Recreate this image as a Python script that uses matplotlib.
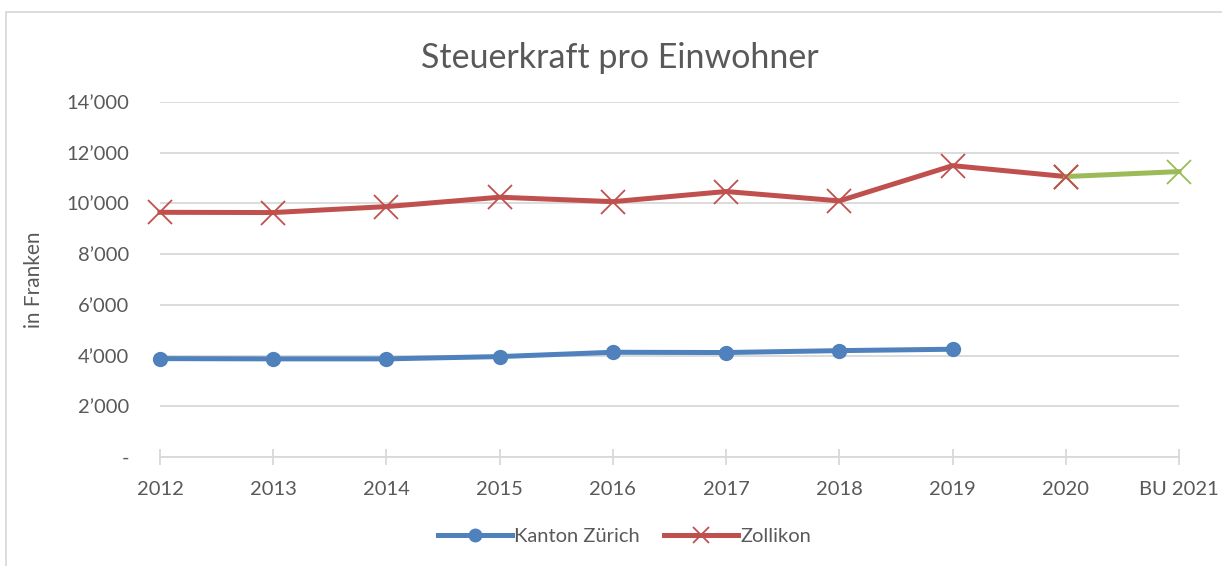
import matplotlib.pyplot as plt
from matplotlib.lines import Line2D
from matplotlib.patches import Rectangle
from matplotlib.ticker import FuncFormatter

# data
years = ["2012", "2013", "2014", "2015", "2016", "2017", "2018", "2019", "2020", "BU 2021"]
kanton_zuerich = [3880, 3870, 3870, 3960, 4130, 4120, 4195, 4250]
zollikon = [9650, 9640, 9875, 10245, 10070, 10470, 10100, 11490, 11060]
zollikon_budget = [11060, 11255]   # 2020 -> BU 2021

blue = "#4F81BD"
red = "#C0504D"
green = "#9BBB59"
grey_text = "#595959"

plt.rcParams["font.family"] = ["Lato", "DejaVu Sans"]

fig = plt.figure(figsize=(12.22, 5.66), dpi=100)
ax = fig.add_axes([160 / 1222, 109 / 566, 1019 / 1222, 355 / 566])

x = list(range(len(years)))

ax.plot(x[:len(kanton_zuerich)], kanton_zuerich, color=blue, lw=3.6,
        marker="o", markersize=10, clip_on=False)
ax.plot(x[:len(zollikon)], zollikon, color=red, lw=3.6,
        marker="x", markersize=17, markeredgewidth=1.3, clip_on=False)
ax.plot(x[8:10], zollikon_budget, color=green, lw=3.6,
        marker="x", markersize=17, markeredgewidth=1.3, clip_on=False)
# redraw the 2020 red marker on top of the green line
ax.plot(x[8], zollikon[8], color=red, marker="x", markersize=17, markeredgewidth=1.3)

ax.set_xlim(0, len(years) - 1)
ax.set_ylim(0, 14000)
ax.set_yticks(range(0, 14001, 2000))
ax.set_xticks(x)
ax.set_xticklabels(years)

def fmt(v, pos):
    if v == 0:
        return "-"
    return "{:,.0f}".format(v).replace(",", "\u2019")

ax.yaxis.set_major_formatter(FuncFormatter(fmt))

ax.grid(axis="y", color="#D9D9D9", lw=1.3)
ax.set_axisbelow(True)
for s in ["top", "right", "left"]:
    ax.spines[s].set_visible(False)
ax.spines["bottom"].set_color("#D9D9D9")
ax.spines["bottom"].set_linewidth(1.3)

ax.tick_params(axis="x", direction="inout", length=12, width=1.3, color="#D9D9D9",
               labelsize=14.5, labelcolor=grey_text, pad=11)
ax.tick_params(axis="y", length=0, labelsize=14.5, labelcolor=grey_text, pad=22)

ax.set_ylabel("in Franken", fontsize=15, color=grey_text, labelpad=16)

fig.text(0.507, 0.898, "Steuerkraft pro Einwohner", ha="center", va="center",
         fontsize=24.5, color=grey_text)

handles = [
    Line2D([], [], color=blue, lw=3.6, marker="o", markersize=9),
    Line2D([], [], color=red, lw=3.6, marker="x", markersize=11, markeredgewidth=1.3),
]
leg = fig.legend(handles, ["Kanton Zürich", "Zollikon"], loc="center",
                 bbox_to_anchor=(0.511, 0.053), ncol=2, frameon=False,
                 fontsize=14.5, handlelength=3.7, columnspacing=1.2, handletextpad=0.1)
for t in leg.get_texts():
    t.set_color(grey_text)

# chart border (cut off at right and bottom)
fig.patches.append(Rectangle((6 / 1222, -0.1), 1.2, (566 - 12) / 566 + 0.1,
                             transform=fig.transFigure, fill=False,
                             edgecolor="#D9D9D9", lw=1.3))

fig.savefig("out.png", dpi=100)
